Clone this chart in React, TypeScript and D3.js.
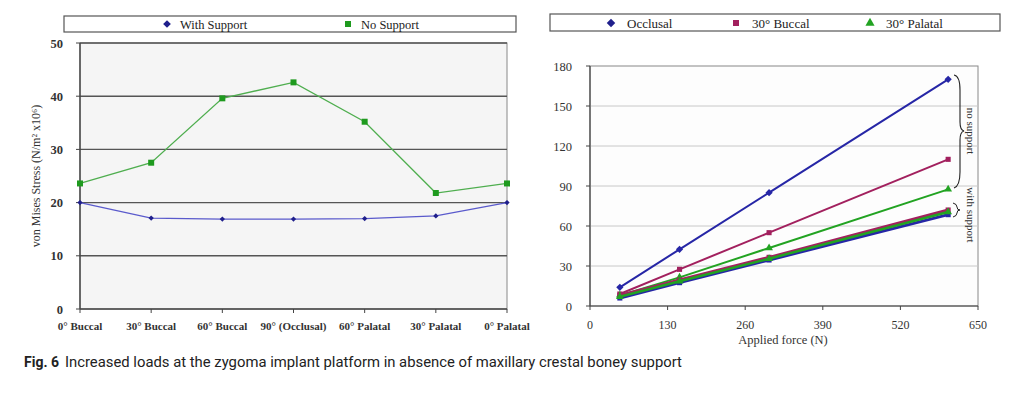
import React from 'react';
import * as d3 from 'd3';

// left chart: stress per loading angle
const angleLabels = ['0° Buccal', '30° Buccal', '60° Buccal', '90° (Occlusal)', '60° Palatal', '30° Palatal', '0° Palatal'];
const withSupport = [20, 17.1, 16.9, 16.9, 17.0, 17.5, 20];
const noSupport = [23.6, 27.5, 39.6, 42.6, 35.2, 21.8, 23.6];
const stressTicks = [0, 10, 20, 30, 40, 50];

// right chart: stress vs applied force
const forces = [50, 150, 300, 600];
const forceTicks = [0, 130, 260, 390, 520, 650];
const loadTicks = [0, 30, 60, 90, 120, 150, 180];
const occlusalNo = [14, 42.5, 85, 170];
const buccalNo = [9, 27.5, 55, 110];
const palatalNo = [8, 21.5, 43.5, 87.5];
const occlusalWith = [6, 17.5, 34.5, 68.5];
const palatalWith = [7, 18.5, 35.5, 70.5];
const buccalWith = [8, 19.5, 36.5, 72];

const SERIF = '"Liberation Serif", "DejaVu Serif", serif';
const BLUE = '#1f1f8c';
const GREEN = '#1e9a1e';
const MAGENTA = '#a2205e';

// diamond = square turned by 45 degrees
const marker = (type: string, size: number) =>
  d3.symbol().type(type === 'triangle' ? d3.symbolTriangle : d3.symbolSquare).size(size)()!;
const rot = (type: string) => (type === 'diamond' ? ' rotate(45)' : '');

const LeftChart: React.FC = () => {
  const x = d3.scalePoint<string>().domain(angleLabels).range([80, 507]);
  const y = d3.scaleLinear().domain([0, 50]).range([309, 43]);
  const line = d3.line<number>().x((_, i) => x(angleLabels[i])!).y(d => y(d));
  return (
    <g>
      {/* legend */}
      <rect x={64} y={16} width={452} height={16} fill="#fff" stroke="#555" strokeWidth={1.2} />
      <path d={marker('diamond', 30)} transform="translate(167,24) rotate(45)" fill={BLUE} />
      <text x={180} y={28.5} fontFamily={SERIF} fontSize={12.5} fill="#222">With Support</text>
      <path d={marker('square', 36)} transform="translate(348,24)" fill={GREEN} />
      <text x={361} y={28.5} fontFamily={SERIF} fontSize={12.5} fill="#222">No Support</text>

      <rect x={80} y={43} width={427} height={266} fill="#f5f5f5" stroke="#888" strokeWidth={1} />
      {stressTicks.filter(t => t > 0).map(t => (
        <line key={t} x1={80} x2={507} y1={y(t)} y2={y(t)} stroke="#555" strokeWidth={1.4} />
      ))}
      <line x1={80} x2={80} y1={43} y2={309} stroke="#444" strokeWidth={1.4} />
      <line x1={80} x2={507} y1={309} y2={309} stroke="#444" strokeWidth={1.4} />
      {stressTicks.map(t => (
        <g key={t}>
          <line x1={76} x2={80} y1={y(t)} y2={y(t)} stroke="#444" />
          <text x={63} y={y(t) + 4.5} textAnchor="end" fontFamily={SERIF} fontWeight="bold" fontSize={12.5} fill="#333">{t}</text>
        </g>
      ))}
      {angleLabels.map(a => (
        <g key={a}>
          <line x1={x(a)} x2={x(a)} y1={309} y2={313} stroke="#444" />
          <text x={x(a)} y={330} textAnchor="middle" fontFamily={SERIF} fontWeight="bold" fontSize={11} fill="#333">{a}</text>
        </g>
      ))}
      <text transform="translate(40,176) rotate(-90)" textAnchor="middle" fontFamily={SERIF} fontSize={12} fill="#333">
        von Mises Stress (N/m² x10⁶)
      </text>

      <path d={line(noSupport)!} fill="none" stroke="#4fae4f" strokeWidth={1.3} />
      <path d={line(withSupport)!} fill="none" stroke="#5a5acc" strokeWidth={1.3} />
      {noSupport.map((v, i) => (
        <path key={i} d={marker('square', 36)} transform={`translate(${x(angleLabels[i])},${y(v)})`} fill={GREEN} />
      ))}
      {withSupport.map((v, i) => (
        <path key={i} d={marker('diamond', 14)} transform={`translate(${x(angleLabels[i])},${y(v)}) rotate(45)`} fill={BLUE} />
      ))}
    </g>
  );
};

const RightChart: React.FC = () => {
  const x = d3.scaleLinear().domain([0, 650]).range([590, 978]);
  const y = d3.scaleLinear().domain([0, 180]).range([306, 66]);
  const line = d3.line<number>().x((_, i) => x(forces[i])).y(d => y(d));
  const series = [
    { vals: occlusalNo, color: '#2626a6', type: 'diamond', w: 2 },
    { vals: buccalNo, color: MAGENTA, type: 'square', w: 2 },
    { vals: palatalNo, color: '#22a322', type: 'triangle', w: 2 },
    { vals: occlusalWith, color: '#2626a6', type: 'square', w: 3 },
    { vals: buccalWith, color: MAGENTA, type: 'square', w: 3 },
    { vals: palatalWith, color: '#22a322', type: 'triangle', w: 2.5 },
  ];
  const legend = [
    { label: 'Occlusal', color: BLUE, type: 'diamond', mx: 611 },
    { label: '30° Buccal', color: MAGENTA, type: 'square', mx: 736 },
    { label: '30° Palatal', color: '#22a322', type: 'triangle', mx: 870 },
  ];
  return (
    <g>
      <rect x={550} y={14} width={450} height={17} fill="#fff" stroke="#555" strokeWidth={1.2} />
      {legend.map(l => (
        <g key={l.label}>
          <path d={marker(l.type, 36)} transform={`translate(${l.mx},23)${rot(l.type)}`} fill={l.color} />
          <text x={l.mx + 16} y={27.5} fontFamily={SERIF} fontSize={13} fill="#222">{l.label}</text>
        </g>
      ))}

      <rect x={590} y={66} width={388} height={240} fill="#fdfdfd" stroke="#888" strokeWidth={1} />
      {loadTicks.filter(t => t > 0 && t < 180).map(t => (
        <line key={t} x1={590} x2={978} y1={y(t)} y2={y(t)} stroke="#c8c8c8" strokeWidth={1} />
      ))}
      <line x1={590} x2={590} y1={66} y2={306} stroke="#444" strokeWidth={1.2} />
      <line x1={590} x2={978} y1={306} y2={306} stroke="#444" strokeWidth={1.2} />
      {loadTicks.map(t => (
        <g key={t}>
          <line x1={586} x2={590} y1={y(t)} y2={y(t)} stroke="#444" />
          <text x={572} y={y(t) + 4.5} textAnchor="end" fontFamily={SERIF} fontSize={12.5} fill="#333">{t}</text>
        </g>
      ))}
      {forceTicks.map(t => (
        <g key={t}>
          <line x1={x(t)} x2={x(t)} y1={306} y2={310} stroke="#444" />
          <text x={x(t)} y={329} textAnchor="middle" fontFamily={SERIF} fontSize={12} fill="#333">{t}</text>
        </g>
      ))}
      <text x={783} y={344} textAnchor="middle" fontFamily={SERIF} fontSize={12.5} fill="#333">Applied force (N)</text>

      {series.map((s, k) => (
        <g key={k}>
          <path d={line(s.vals)!} fill="none" stroke={s.color} strokeWidth={s.w} />
          {s.vals.map((v, i) => (
            <path key={i} d={marker(s.type, 26)} transform={`translate(${x(forces[i])},${y(v)})${rot(s.type)}`} fill={s.color} />
          ))}
        </g>
      ))}

      {/* braces */}
      <path d="M954,75 Q960,76 960,90 L960,122 Q960,130 964,131 Q960,132 960,140 L960,172 Q960,186 954,188" fill="none" stroke="#222" strokeWidth={1.1} />
      <text transform="translate(967,131) rotate(90)" textAnchor="middle" fontFamily={SERIF} fontSize={11} fill="#333">no support</text>
      <path d="M953,203 Q957,204 957,207 Q957,210 960,210 Q957,210 957,213 Q957,216 953,217" fill="none" stroke="#222" strokeWidth={1} />
      <text transform="translate(967,215) rotate(90)" textAnchor="middle" fontFamily={SERIF} fontSize={11} fill="#333">with support</text>
    </g>
  );
};

export default function App() {
  return (
    <svg width={1024} height={396} style={{ position: 'absolute', left: 0, top: 0, background: '#fff' }}>
      <rect width={1024} height={396} fill="#fff" />
      <LeftChart />
      <RightChart />
      <text x={24} y={367} fontFamily='"Roboto", "Noto Sans", sans-serif' fontSize={14} fill="#222">
        <tspan fontWeight="bold">Fig. 6</tspan>
        <tspan dx={6} textLength={617} lengthAdjust="spacingAndGlyphs">Increased loads at the zygoma implant platform in absence of maxillary crestal boney support</tspan>
      </text>
    </svg>
  );
}
